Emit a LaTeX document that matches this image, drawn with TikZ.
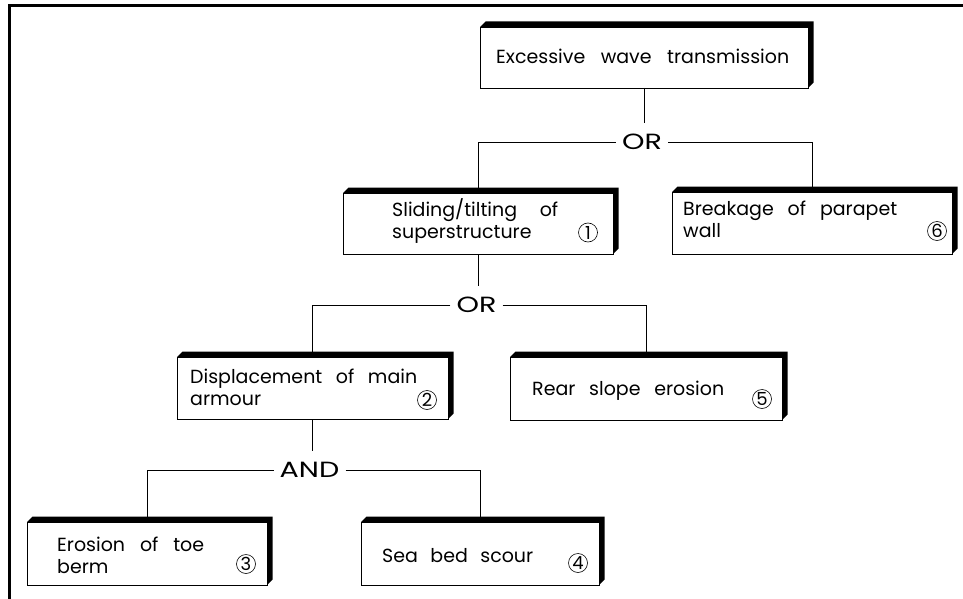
\documentclass[tikz,border=0pt]{standalone}
\usepackage{fontspec}
\setmainfont{Poppins}
\usepackage{graphicx}
\usepackage{tikz}

\newcommand{\spreadline}[2]{\makebox[#1][s]{#2}}

\tikzset{
    failbox/.style={rectangle, draw=black, line width=0.8pt, fill=white, inner sep=0pt, outer sep=0pt,
        append after command={
            \pgfextra{\fill[black] (\tikzlastnode.north west) -- ([shift={(5.5pt,5.5pt)}]\tikzlastnode.north west)
                -- ([shift={(5.5pt,5.5pt)}]\tikzlastnode.north east) -- ([shift={(5.5pt,5.5pt)}]\tikzlastnode.south east)
                -- (\tikzlastnode.south east) -- (\tikzlastnode.north east) -- cycle;}
        }},
    boxtext/.style={anchor=base west, align=left, inner sep=0pt, font={\fontsize{19}{22}\selectfont}},
    numcirc/.style={circle, draw=black, line width=0.6pt, minimum size=19pt, inner sep=0pt, font={\fontsize{18}{18}\selectfont}},
    gate/.style={inner xsep=6pt, inner ysep=11pt, text height=15pt, text depth=0pt, font={\fontsize{22}{22}\selectfont}},
    link/.style={line width=0.7pt, color=black}
}

\begin{document}
\begin{tikzpicture}
            [x=1pt, y=1pt]
                \useasboundingbox (0pt, 0pt) rectangle (963pt, -599pt);
                \draw [line width=2.5pt] (9.5pt, -599pt) -- (9.5pt, -5.5pt) -- (963pt, -5.5pt);
                % boxes
                \node (top) [failbox, minimum width=328pt, minimum height=61pt] at (644pt, -57.5pt) {};
                \node (b1) [failbox, minimum width=270pt, minimum height=61pt] at (478pt, -223.5pt) {};
                \node (b6) [failbox, minimum width=280pt, minimum height=62pt] at (812pt, -223pt) {};
                \node (b2) [failbox, minimum width=271pt, minimum height=62pt] at (312.5pt, -388pt) {};
                \node (b5) [failbox, minimum width=272pt, minimum height=63pt] at (646pt, -388.5pt) {};
                \node (b3) [failbox, minimum width=240pt, minimum height=63pt] at (147pt, -553.5pt) {};
                \node (b4) [failbox, minimum width=238pt, minimum height=63pt] at (480pt, -553.5pt) {};
                % texts
                \node (t0) [boxtext] at (496pt, -64pt) {\spreadline{293pt}{Excessive wave transmission}};
                \node (t1) [boxtext] at (392pt, -238pt) {\spreadline{166pt}{Sliding/tilting of}\\superstructure};
                \node (t6) [boxtext] at (683pt, -237pt) {\spreadline{214pt}{Breakage of parapet}\\wall};
                \node (t2) [boxtext] at (190pt, -405pt) {\spreadline{227pt}{Displacement of main}\\armour};
                \node (t5) [boxtext] at (532pt, -395pt) {\spreadline{192pt}{Rear slope erosion}};
                \node (t3) [boxtext] at (57pt, -573pt) {\spreadline{147pt}{Erosion of toe}\\berm};
                \node (t4) [boxtext] at (382pt, -562pt) {\spreadline{151pt}{Sea bed scour}};
                % numbers
                \node (c1) [numcirc] at (588pt, -232.5pt) {1};
                \node (c6) [numcirc] at (937pt, -231pt) {6};
                \node (c2) [numcirc] at (427pt, -400pt) {2};
                \node (c5) [numcirc] at (762pt, -399pt) {5};
                \node (c3) [numcirc] at (246pt, -564pt) {3};
                \node (c4) [numcirc] at (578pt, -563pt) {4};
                % gates
                \node (or1) [gate] at (642pt, -142pt) {\scalebox{1.3}[1]{OR}};
                \node (or2) [gate] at (476.5pt, -305pt) {\scalebox{1.3}[1]{OR}};
                \node (and1) [gate] at (309.5pt, -470pt) {\scalebox{1.3}[1]{AND}};
                \draw [link] (top.south) -- (top.south |- or1.north);
                \draw [link] (or1.west) -| (b1.north);
                \draw [link] (or1.east) -| (b6.north);
                \draw [link] (b1.south) -- (b1.south |- or2.north);
                \draw [link] (or2.west) -| (b2.north);
                \draw [link] (or2.east) -| (b5.north);
                \draw [link] (b2.south) -- (b2.south |- and1.north);
                \draw [link] (and1.west) -| (b3.north);
                \draw [link] (and1.east) -| (b4.north);
            \end{tikzpicture}
\end{document}
